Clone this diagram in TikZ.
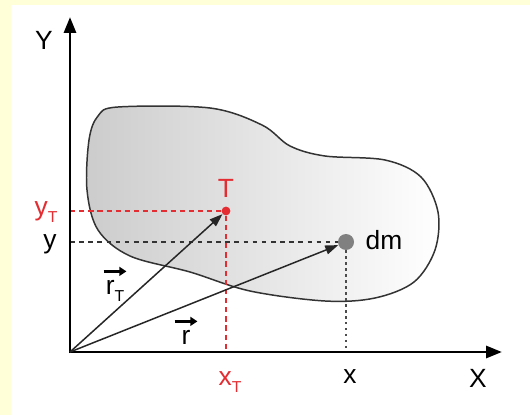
\documentclass[tikz,border=0pt]{standalone}
\usepackage{amsmath}
\usepackage{fontspec}
\setmainfont{Liberation Sans}
\usetikzlibrary{arrows.meta,shadings}
\definecolor{bgyellow}{RGB}{255,255,216}
\definecolor{ptred}{RGB}{228,45,50}
\definecolor{dmgray}{RGB}{128,128,128}
\newcommand{\hvec}[1]{\begin{tabular}[b]{@{}c@{}}\tikz[baseline=0pt]{\draw[-{Triangle[length=4pt,width=5pt]}, line width=2pt] (0pt,0pt) -- (13pt,0pt);}\\[-3pt]#1\end{tabular}}
\newcommand{\subT}{\raisebox{-0.5ex}{\fontsize{9}{10}\selectfont T}}
\tikzset{
  axarr/.style={-{Triangle[length=3.2mm,width=2.4mm]}, black, line width=1.7pt},
  vecarr/.style={-{Triangle[length=2.6mm,width=1.8mm]}, black!85, line width=0.85pt},
  body/.style={draw=black!80, line width=0.85pt, left color=black!20, right color=white},
  redproj/.style={ptred, line width=1.1pt, dash pattern=on 3pt off 2.2pt},
  blkproj/.style={black!80, line width=0.7pt, dash pattern=on 2.6pt off 2.6pt},
  grayproj/.style={black!70, line width=0.7pt, dash pattern=on 1.4pt off 2pt},
  lab/.style={font=\fontsize{15}{16}\selectfont, inner sep=0pt},
  redlab/.style={lab, text=ptred},
}
\begin{document}
\begin{tikzpicture}[x=0.02cm,y=-0.02cm]
    \fill[bgyellow] (0,0) rectangle (530,415);
    \fill[white] (11,5) rectangle (530,415);
    \useasboundingbox (0,0) rectangle (530,415);
    % body
    \draw[body] plot[smooth cycle, tension=0.55] coordinates {
      (118,107) (210,108) (262,125) (290,146) (325,156) (385,160)
      (421,177) (438,212) (435,250) (414,282) (375,298) (325,301)
      (250,291) (190,272) (130,256) (98,230) (87,190) (89,140) (98,116)};
    % points
    \coordinate (o) at (70,352);
    \node[circle, fill=ptred, inner sep=0pt, minimum size=5pt] (t) at (226,211) {};
    \node[circle, fill=dmgray, inner sep=0pt, minimum size=0.32cm] (dm) at (346,242) {};
    \coordinate (ty) at (70,211);
    \coordinate (tx) at (226,352);
    \coordinate (my) at (70,242);
    \coordinate (mx) at (346,352);
    % projections
    \draw[redproj] (ty) -- (t);
    \draw[redproj] (t) -- (tx);
    \draw[blkproj] (my) -- (dm);
    \draw[grayproj] (dm) -- (mx);
    % axes
    \coordinate (yend) at (70,17);
    \coordinate (xend) at (502,352);
    \draw[axarr] (70,353) -- (yend);
    \draw[axarr] (69,352) -- (xend);
    % vectors
    \draw[vecarr] (o) -- (t);
    \draw[vecarr] (o) -- (dm);
    % labels
    \node[lab] (ylab) at (44,40) {Y};
    \node[lab] (xlab) at (478,378) {X};
    \node[redlab] (tlab) at (226,188) {T};
    \node[redlab] (ytlab) at (46,212) {y\subT};
    \node[lab] (yl) at (50,244) {y};
    \node[redlab] (xtlab) at (230,382) {x\subT};
    \node[lab] (xl) at (350,377) {x};
    \node[lab] (dmlab) at (384,240) {dm};
    \node[lab, anchor=south] (rtlab) at (115,303) {\hvec{r\subT}};
    \node[lab, anchor=south] (rlab) at (186,353) {\hvec{r}};
\end{tikzpicture}
\end{document}
